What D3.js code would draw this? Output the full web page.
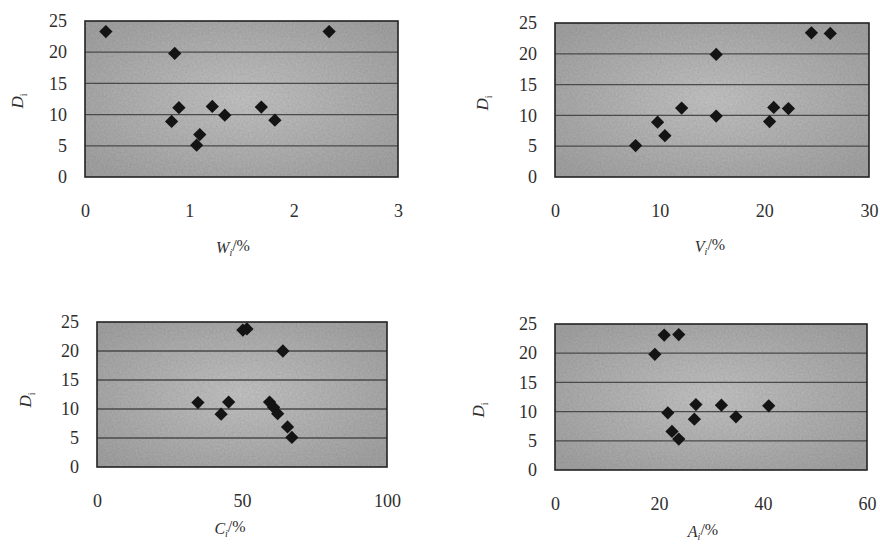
<!DOCTYPE html>
<html>
<head>
<meta charset="utf-8">
<script src="https://cdn.jsdelivr.net/npm/d3@7/dist/d3.min.js"></script>
<style>
  body { margin: 0; background: #fff; }
  svg { display: block; }
  text { font-family: "Liberation Serif", "Times New Roman", serif; fill: #2e2e2e; }
</style>
</head>
<body>
<svg id="chart" width="880" height="545"></svg>
<script>
// D_i values against each component
const wValues = [0.2, 2.34, 0.86, 0.90, 0.83, 1.22, 1.34, 1.10, 1.07, 1.69, 1.82];
const wD      = [23.3, 23.3, 19.8, 11.1, 8.9, 11.3, 9.9, 6.8, 5.1, 11.2, 9.1];

const vValues = [24.5, 26.3, 15.4, 12.1, 15.4, 9.8, 10.5, 7.7, 20.9, 22.3, 20.5];
const vD      = [23.4, 23.3, 19.9, 11.2, 9.9, 8.9, 6.7, 5.1, 11.3, 11.1, 9.0];

const cValues = [50.3, 51.7, 64.1, 34.8, 45.4, 42.8, 59.5, 60.9, 62.3, 65.7, 67.2];
const cD      = [23.6, 23.8, 20.0, 11.1, 11.2, 9.1, 11.2, 10.3, 9.2, 6.9, 5.1];

const aValues = [21.0, 23.8, 19.2, 21.7, 27.1, 26.8, 32.0, 34.8, 41.1, 22.5, 23.8];
const aD      = [23.1, 23.2, 19.8, 9.8, 11.2, 8.7, 11.1, 9.1, 11.0, 6.6, 5.3];

const yTicks = [0, 5, 10, 15, 20, 25];
const wTicks = [0, 1, 2, 3];
const vTicks = [0, 10, 20, 30];
const cTicks = [0, 50, 100];
const aTicks = [0, 20, 40, 60];

const panels = [
  { x: wValues, d: wD, ticks: wTicks, max: 3,   sym: "W", box: [85, 21, 398, 177],  yLab: [17, 101],  xLab: [233, 247] },
  { x: vValues, d: vD, ticks: vTicks, max: 30,  sym: "V", box: [555, 23, 869, 177], yLab: [482, 103], xLab: [710, 246] },
  { x: cValues, d: cD, ticks: cTicks, max: 100, sym: "C", box: [97, 322, 387, 467], yLab: [25, 400],  xLab: [230, 528] },
  { x: aValues, d: aD, ticks: aTicks, max: 60,  sym: "A", box: [555, 324, 867, 470], yLab: [478, 410], xLab: [703, 531] }
];

const svg = d3.select("#chart");
const defs = svg.append("defs");

const grad = defs.append("radialGradient").attr("id", "bg")
  .attr("cx", "50%").attr("cy", "50%").attr("r", "65%");
grad.append("stop").attr("offset", "0%").attr("stop-color", "#c6c6c6");
grad.append("stop").attr("offset", "100%").attr("stop-color", "#a4a4a4");

// grainy scan texture
const f = defs.append("filter").attr("id", "grain").attr("x", 0).attr("y", 0).attr("width", 1).attr("height", 1);
f.append("feTurbulence").attr("type", "fractalNoise").attr("baseFrequency", 0.5).attr("numOctaves", 2).attr("seed", 3).attr("result", "n");
f.append("feColorMatrix").attr("in", "n").attr("type", "matrix")
  .attr("values", "0 0 0 0 0  0 0 0 0 0  0 0 0 0 0  0 0 0 0.25 0").attr("result", "a");
f.append("feComposite").attr("in", "a").attr("in2", "SourceGraphic").attr("operator", "in").attr("result", "b");
f.append("feMerge").call(m => { m.append("feMergeNode").attr("in", "SourceGraphic"); m.append("feMergeNode").attr("in", "b"); });

const diamond = d3.symbol().type(d3.symbolSquare).size(88);

panels.forEach(p => {
  const [x0, y0, x1, y1] = p.box;
  const x = d3.scaleLinear().domain([0, p.max]).range([x0, x1]);
  const y = d3.scaleLinear().domain([0, 25]).range([y1, y0]);
  const g = svg.append("g");

  g.append("rect")
    .attr("x", x0).attr("y", y0)
    .attr("width", x1 - x0).attr("height", y1 - y0)
    .attr("fill", "url(#bg)")
    .attr("filter", "url(#grain)");

  g.selectAll("line.grid")
    .data(yTicks.slice(1, -1))
    .enter().append("line")
      .attr("class", "grid")
      .attr("x1", x0).attr("x2", x1)
      .attr("y1", d => y(d)).attr("y2", d => y(d))
      .attr("stroke", "#4a4a4a").attr("stroke-width", 1.3);

  g.append("rect")
    .attr("x", x0).attr("y", y0)
    .attr("width", x1 - x0).attr("height", y1 - y0)
    .attr("fill", "none").attr("stroke", "#222").attr("stroke-width", 1.6);

  const yAxis = g.append("g")
    .attr("transform", `translate(${x0},0)`)
    .call(d3.axisLeft(y).tickValues(yTicks).tickSize(0).tickPadding(18));
  yAxis.select(".domain").remove();

  const xAxis = g.append("g")
    .attr("transform", `translate(0,${y1})`)
    .call(d3.axisBottom(x).tickValues(p.ticks).tickFormat(d3.format("d")).tickSize(0).tickPadding(27));
  xAxis.select(".domain").remove();

  g.selectAll(".tick text")
    .attr("font-size", 18)
    .attr("font-family", "Liberation Serif, serif")
    .attr("fill", "#333");

  g.selectAll("path.pt")
    .data(p.x.map((v, i) => [v, p.d[i]]))
    .enter().append("path")
      .attr("class", "pt")
      .attr("d", diamond)
      .attr("transform", d => `translate(${x(d[0])},${y(d[1])}) rotate(45)`)
      .attr("fill", "#141414");

  // axis titles
  const yt = g.append("text")
    .attr("transform", `translate(${p.yLab[0]},${p.yLab[1]}) rotate(-90)`)
    .attr("text-anchor", "middle")
    .attr("dy", "0.35em")
    .attr("font-size", 17).attr("font-style", "italic");
  yt.append("tspan").text("D");
  yt.append("tspan").attr("font-size", 10).attr("dy", "0.45em").attr("font-style", "normal").text("i");

  const xt = g.append("text")
    .attr("x", p.xLab[0]).attr("y", p.xLab[1])
    .attr("text-anchor", "middle")
    .attr("dy", "0.35em")
    .attr("font-size", 16).attr("font-style", "italic");
  xt.append("tspan").text(p.sym);
  xt.append("tspan").attr("font-size", 10).attr("dy", "0.3em").text("i");
  xt.append("tspan").attr("dy", "-0.3em").attr("font-style", "normal").text("/%");
});
</script>
</body>
</html>
